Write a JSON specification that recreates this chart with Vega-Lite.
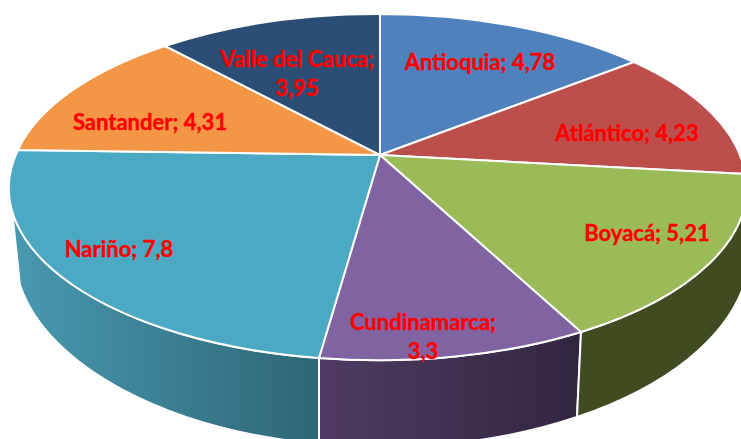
{
"$schema":"https://vega.github.io/schema/vega-lite/v6.json",
"width":741,"height":439,"padding":0,"autosize":{"type":"none"},
"background":"white",
"config":{"view":{"stroke":null}},
"data":{"values":[
{"name":"Antioquia","value":4.78,"label":"Antioquia; 4,78"},
{"name":"Atlántico","value":4.23,"label":"Atlántico; 4,23"},
{"name":"Boyacá","value":5.21,"label":"Boyacá; 5,21"},
{"name":"Cundinamarca","value":3.3,"label":"Cundinamarca;\n3,3"},
{"name":"Nariño","value":7.8,"label":"Nariño; 7,8"},
{"name":"Santander","value":4.31,"label":"Santander; 4,31"},
{"name":"Valle del Cauca","value":3.95,"label":"Valle del Cauca;\n3,95"}
]},
"resolve":{"scale":{"x":"independent","y":"independent","shape":"independent","fill":"independent"}},
"layer":[
{"transform":[{"filter":"datum.name==='Nariño'"}],
 "mark":{"type":"point","filled":true,"opacity":1,"size":4,"stroke":"white","strokeWidth":2,
  "shape":"M-368,55 A368,172 0 0 0 -61,203 L-61,289 A366,197 0 0 1 -360,130 Z",
  "fill":{"gradient":"linear","x1":0,"y1":0,"x2":1,"y2":0,"stops":[{"offset":0,"color":"#4899b1"},{"offset":1,"color":"#2e6674"}]}},
 "encoding":{"x":{"datum":0,"type":"quantitative","scale":{"domain":[-380,361]},"axis":null},"y":{"datum":0,"type":"quantitative","scale":{"domain":[284,-155]},"axis":null}}},
{"transform":[{"filter":"datum.name==='Cundinamarca'"}],
 "mark":{"type":"point","filled":true,"opacity":1,"size":4,"stroke":"white","strokeWidth":2,
  "shape":"M-61,203 A368,172 0 0 0 201,177 L197,262 A366,197 0 0 1 -61,289 Z",
  "fill":{"gradient":"linear","x1":0,"y1":0,"x2":1,"y2":0,"stops":[{"offset":0,"color":"#4f3b63"},{"offset":1,"color":"#312640"}]}},
 "encoding":{"x":{"datum":0,"type":"quantitative","scale":{"domain":[-380,361]},"axis":null},"y":{"datum":0,"type":"quantitative","scale":{"domain":[284,-155]},"axis":null}}},
{"transform":[{"filter":"datum.name==='Boyacá'"}],
 "mark":{"type":"point","filled":true,"opacity":1,"size":4,"stroke":"white","strokeWidth":2,
  "shape":"M201,177 A368,172 0 0 0 365,44 L365,127 A366,197 0 0 1 197,262 Z",
  "fill":"#3f4b21"},
 "encoding":{"x":{"datum":0,"type":"quantitative","scale":{"domain":[-380,361]},"axis":null},"y":{"datum":0,"type":"quantitative","scale":{"domain":[284,-155]},"axis":null}}},
{"mark":{"type":"point","filled":true,"opacity":1,"size":4,"stroke":"white","strokeWidth":2},
 "encoding":{
  "x":{"datum":0,"type":"quantitative","scale":{"domain":[-380,361]},"axis":null},
  "y":{"datum":0,"type":"quantitative","scale":{"domain":[284,-155]},"axis":null},
  "fill":{"field":"name","type":"nominal","legend":null,"scale":{"domain":["Antioquia","Atlántico","Boyacá","Cundinamarca","Nariño","Santander","Valle del Cauca"],"range":["#4f81bd","#bc4f4c","#9bbb59","#8064a2","#4ba9c4","#f39645","#2c4d75"]}},
  "shape":{"field":"name","type":"nominal","legend":null,"scale":{"domain":["Antioquia","Atlántico","Boyacá","Cundinamarca","Nariño","Santander","Valle del Cauca"],"range":[
   "M0,0 L0,-141 A368,172 0 0 1 254,-93 Z",
   "M0,0 L254,-93 A368,172 0 0 1 365,19 Z",
   "M0,0 L365,19 A368,172 0 0 1 201,177 Z",
   "M0,0 L201,177 A368,172 0 0 1 -61,203 Z",
   "M0,0 L-61,203 A368,172 0 0 1 -362,-5 Z",
   "M0,0 L-362,-5 A368,172 0 0 1 -215,-109 Z",
   "M0,0 L-215,-109 A368,172 0 0 1 0,-141 Z"]}}
 }},
{"mark":{"type":"text","font":"Lato","fontWeight":"bold","fontSize":22,"color":"#ff0000","stroke":"#ff0000","strokeWidth":0.4,"align":"center","baseline":"middle","lineBreak":"\n","lineHeight":29},
 "encoding":{
  "text":{"field":"label","type":"nominal"},
  "x":{"field":"value","type":"quantitative","axis":null,"scale":{"zero":false,"nice":false,"domain":[3.3,3.95,4.23,4.31,4.78,5.21,7.8],"range":[423,297,627,150,480,647,119]}},
  "y":{"field":"value","type":"quantitative","axis":null,"scale":{"zero":false,"nice":false,"domain":[3.3,3.95,4.23,4.31,4.78,5.21,7.8],"range":[323,60,134,123,63,234,250]}}
 }}
]
}
